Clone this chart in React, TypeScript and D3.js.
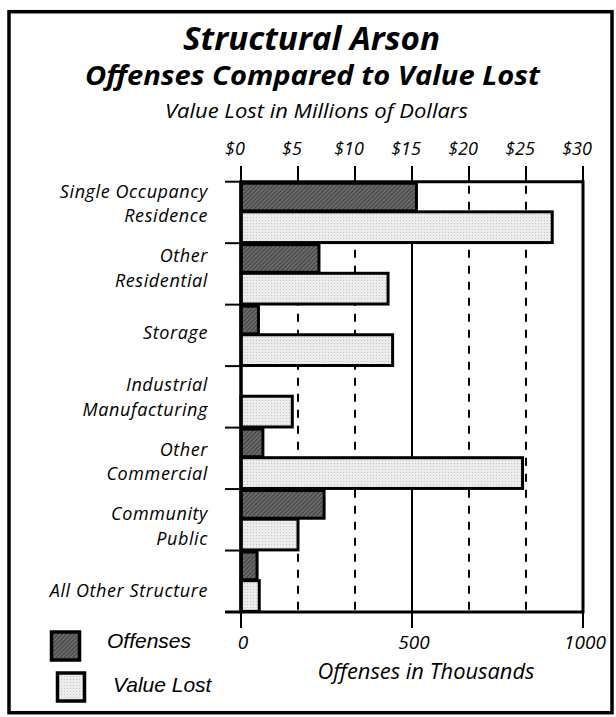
import React from "react";
import * as d3 from "d3";

const categories = [
  "Single Occupancy Residence",
  "Other Residential",
  "Storage",
  "Industrial Manufacturing",
  "Other Commercial",
  "Community Public",
  "All Other Structure",
];
const labelLines = [
  ["Single Occupancy", "Residence"],
  ["Other", "Residential"],
  ["Storage"],
  ["Industrial", "Manufacturing"],
  ["Other", "Commercial"],
  ["Community", "Public"],
  ["All Other Structure"],
];
// Offenses in thousands
const offenses = [513, 228, 51, 0, 64, 243, 47];
// Value lost in millions of dollars
const valueLost = [27.3, 12.9, 13.3, 4.5, 24.7, 5.0, 1.6];
const dollarTicks = [0, 5, 10, 15, 20, 25, 30];
const offenseTicks = [0, 500, 1000];
const solidDollar = [15];
const dashedDollar = [5, 10, 20, 25];

const W = 616;
const H = 717;
const X0 = 241;
const X1 = 583;
const Y0 = 181.7;
const Y1 = 612;

export default function App() {
  const xOff = d3.scaleLinear().domain([0, 1000]).range([X0, X1]);
  const xVal = d3.scaleLinear().domain([0, 30]).range([X0, X1]);
  const y = d3.scaleBand().domain(categories).range([Y0, Y1]).padding(0);
  const bw = y.bandwidth();
  const labelY = d3.scalePoint().domain(categories).range([210, 597]);
  const boundaries = d3.range(categories.length + 1).map((i) => Y0 + i * bw);

  const italic = { fontFamily: "'Open Sans', Lato, sans-serif", fontStyle: "italic" } as const;
  const boldItalic = { fontFamily: "'Open Sans', Lato, sans-serif", fontStyle: "italic", fontWeight: 700 } as const;
  const legendFont = { fontFamily: "'Liberation Sans', Arial, sans-serif", fontStyle: "italic", fontSize: 21 } as const;

  return (
    <svg width={W} height={H} style={{ display: "block", position: "absolute", left: 0, top: 0 }}>
      <defs>
        <pattern id="hatch" width="3" height="3" patternUnits="userSpaceOnUse" patternTransform="rotate(45)">
          <rect width="3" height="3" fill="#6a6a6a" />
          <line x1="0" y1="0" x2="0" y2="3" stroke="#2e2e2e" strokeWidth="1.4" />
        </pattern>
        <pattern id="stipple" width="3" height="3" patternUnits="userSpaceOnUse">
          <rect width="3" height="3" fill="#ececec" />
          <rect x="1" y="1" width="1" height="1" fill="#c4c4c4" />
        </pattern>
      </defs>
      <rect x={0} y={0} width={W} height={H} fill="#fff" />
      <rect x={9} y={11.7} width={603} height={701} fill="none" stroke="#000" strokeWidth={3.5} />

      {/* Titles */}
      <text x={311.5} y={50} textAnchor="middle" textLength={257} lengthAdjust="spacingAndGlyphs"
        style={{ ...boldItalic, fontSize: 33 }}>
        Structural Arson
      </text>
      <text x={312.5} y={85} textAnchor="middle" textLength={455} lengthAdjust="spacingAndGlyphs"
        style={{ ...boldItalic, fontSize: 26 }}>
        Offenses Compared to Value Lost
      </text>
      <text x={316.5} y={118} textAnchor="middle" textLength={303} lengthAdjust="spacingAndGlyphs"
        style={{ ...italic, fontSize: 20 }}>
        Value Lost in Millions of Dollars
      </text>

      {/* Top dollar axis labels and ticks */}
      {dollarTicks.map((t) => (
        <g key={"dt" + t}>
          <text x={xVal(t) - 6} y={155} textAnchor="middle" style={{ ...italic, fontSize: 18 }}>
            {"$" + t}
          </text>
          <line x1={xVal(t)} x2={xVal(t)} y1={166} y2={Y0} stroke="#000" strokeWidth={2} />
        </g>
      ))}

      {/* Grid lines */}
      {dashedDollar.map((t) => (
        <line key={"dg" + t} x1={xVal(t)} x2={xVal(t)} y1={Y0} y2={Y1} stroke="#000"
          strokeWidth={2} strokeDasharray="8,8" strokeDashoffset={-4} />
      ))}
      {solidDollar.map((t) => (
        <line key={"sg" + t} x1={xVal(t)} x2={xVal(t)} y1={Y0} y2={Y1} stroke="#000" strokeWidth={2} />
      ))}

      {/* Bars */}
      {categories.map((c, i) => {
        const top = y(c) as number;
        return (
          <g key={"b" + c}>
            {offenses[i] > 0 && (
              <rect x={xOff(0)} y={top + 1.5} width={xOff(offenses[i]) - xOff(0)} height={bw * 0.45}
                fill="url(#hatch)" stroke="#000" strokeWidth={3} />
            )}
            <rect x={xVal(0)} y={top + bw * 0.49} width={xVal(valueLost[i]) - xVal(0)} height={bw * 0.5}
              fill="url(#stipple)" stroke="#000" strokeWidth={3} />
          </g>
        );
      })}

      {/* Frame */}
      <line x1={X0} x2={X1} y1={Y0} y2={Y0} stroke="#000" strokeWidth={3} />
      <line x1={X1} x2={X1} y1={Y0 - 1.5} y2={Y1 + 1.5} stroke="#000" strokeWidth={3} />
      <line x1={X0} x2={X0} y1={Y0 - 1.5} y2={Y1 + 1.5} stroke="#000" strokeWidth={3.5} />
      <line x1={225} x2={X1} y1={Y1} y2={Y1} stroke="#000" strokeWidth={3} />
      {boundaries.slice(0, -1).map((b, i) => (
        <line key={"lt" + i} x1={225} x2={X0} y1={b} y2={b} stroke="#000" strokeWidth={2} />
      ))}

      {/* Bottom axis */}
      {offenseTicks.map((t) => (
        <g key={"ot" + t}>
          <line x1={xOff(t)} x2={xOff(t)} y1={Y1} y2={628} stroke="#000" strokeWidth={2} />
          <text x={xOff(t) + 2} y={649} textAnchor="middle" style={{ ...italic, fontSize: 19 }}>
            {t}
          </text>
        </g>
      ))}
      <text x={426} y={679} textAnchor="middle" textLength={217} lengthAdjust="spacingAndGlyphs"
        style={{ ...italic, fontSize: 21 }}>
        Offenses in Thousands
      </text>

      {/* Category labels */}
      {categories.map((c, i) => {
        const lines = labelLines[i];
        const cy = labelY(c) as number;
        const gap = 24.5;
        const start = cy - ((lines.length - 1) * gap) / 2;
        return (
          <text key={"l" + c} textAnchor="end" style={{ ...italic, fontSize: 18, letterSpacing: 0.6 }}>
            {lines.map((ln, j) => (
              <tspan key={j} x={208} y={start + j * gap}>{ln}</tspan>
            ))}
          </text>
        );
      })}

      {/* Legend */}
      <rect x={51.5} y={632} width={28} height={28} fill="url(#hatch)" stroke="#000" strokeWidth={3.5} />
      <rect x={57.5} y={673} width={27} height={28} fill="url(#stipple)" stroke="#000" strokeWidth={3.5} />
      <text x={107} y={648} style={legendFont}>Offenses</text>
      <text x={113} y={692} style={legendFont}>Value Lost</text>
    </svg>
  );
}
